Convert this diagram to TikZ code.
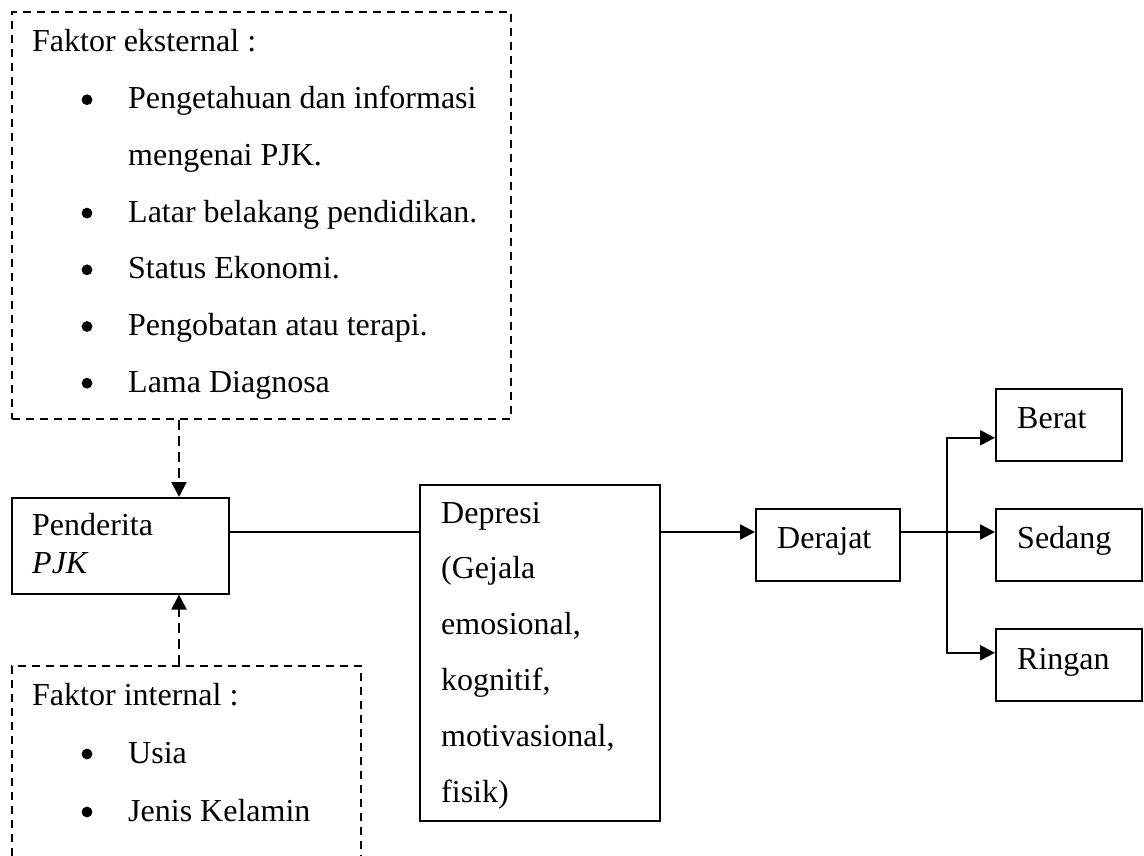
\documentclass[tikz,border=0pt]{standalone}
\usepackage{fontspec}
\setmainfont{Liberation Serif}
\usetikzlibrary{arrows.meta}
\begin{document}
\begin{tikzpicture}[x=1pt,y=-1pt,
  box/.style={draw, line width=1.6pt, rectangle, inner sep=0pt, anchor=north west},
  dbox/.style={draw, line width=1.9pt, dash pattern=on 8pt off 6pt, rectangle, inner sep=0pt, anchor=north west},
  txt/.style={anchor=base west, inner sep=0pt, font=\fontsize{32pt}{38pt}\selectfont},
  conn/.style={line width=1.6pt},
  arr/.style={line width=2.3pt, -{Triangle[length=15pt,width=15pt]}},
  darr/.style={line width=2.2pt, dash pattern=on 10pt off 6pt, -{Triangle[length=15pt,width=15pt]}},
  bul/.style={fill=black}]
\useasboundingbox (0,0) rectangle (1144,856);
\clip (0,0) rectangle (1144,856);
\fill[white] (0,0) rectangle (1144,856);

% external factors
\node[dbox, minimum width=499pt, minimum height=407pt] (ext) at (11,11) {};
\node[txt] (e0) at (32,52) {Faktor eksternal :};
\node[txt] (e1) at (128,108.7) {Pengetahuan dan informasi};
\node[txt] (e2) at (128,165.4) {mengenai PJK.};
\node[txt] (e3) at (128,222.1) {Latar belakang pendidikan.};
\node[txt] (e4) at (128,278.8) {Status Ekonomi.};
\node[txt] (e5) at (128,335.5) {Pengobatan atau terapi.};
\node[txt] (e6) at (128,392.2) {Lama Diagnosa};
\fill[bul] (87,99.7) circle (5.4);
\fill[bul] (87,213.1) circle (5.4);
\fill[bul] (87,269.8) circle (5.4);
\fill[bul] (87,326.5) circle (5.4);
\fill[bul] (87,383.2) circle (5.4);

% internal factors
\node[dbox, minimum width=349pt, minimum height=240pt] (int) at (11,665) {};
\node[txt] (i0) at (32,705) {Faktor internal :};
\node[txt] (i1) at (128,763) {Usia};
\node[txt] (i2) at (128,821) {Jenis Kelamin};
\fill[bul] (87,754) circle (5.4);
\fill[bul] (87,812) circle (5.4);

% Penderita
\node[box, minimum width=217pt, minimum height=96pt] (pend) at (11,497) {};
\node[txt] (p0) at (32,535) {Penderita};
\node[txt] (p1) at (32,573) {\textit{PJK}};

% Depresi
\node[box, minimum width=240pt, minimum height=336pt] (dep) at (419,484) {};
\node[txt] (d0) at (441,523) {Depresi};
\node[txt] (d1) at (441,578.8) {(Gejala};
\node[txt] (d2) at (441,634.6) {emosional,};
\node[txt] (d3) at (441,690.4) {kognitif,};
\node[txt] (d4) at (441,746.2) {motivasional,};
\node[txt] (d5) at (441,802) {fisik)};

% Derajat and levels
\node[box, minimum width=144pt, minimum height=72pt] (der) at (755,508) {};
\node[txt] (dt) at (777,548) {Derajat};
\node[box, minimum width=126pt, minimum height=72pt] (ber) at (995,388) {};
\node[txt] (bt) at (1017,428) {Berat};
\node[box, minimum width=146pt, minimum height=72pt] (sed) at (995,508) {};
\node[txt] (st) at (1017,548) {Sedang};
\node[box, minimum width=146pt, minimum height=72pt] (rin) at (995,628) {};
\node[txt] (rt) at (1017,669) {Ringan};

% connectors
\coordinate (dx) at (179,0);
\coordinate (ly) at (0,532);
\coordinate (bx) at (947,0);
\draw[darr] (ext.south -| dx) -- (pend.north -| dx);
\draw[darr] (int.north -| dx) -- (pend.south -| dx);
\draw[conn] (pend.east |- ly) -- (dep.west |- ly);
\draw[arr] (dep.east |- ly) -- (der.west |- ly);
\draw[line width=2.3pt] (der.east |- ly) -- (bx |- ly);
\draw[arr] (bx |- ly) -- (sed.west |- ly);
\draw[arr] (bx |- ly) |- ([yshift=-13pt]ber.west);
\draw[arr] (bx |- ly) |- ([yshift=12pt]rin.west);
\end{tikzpicture}
\end{document}
